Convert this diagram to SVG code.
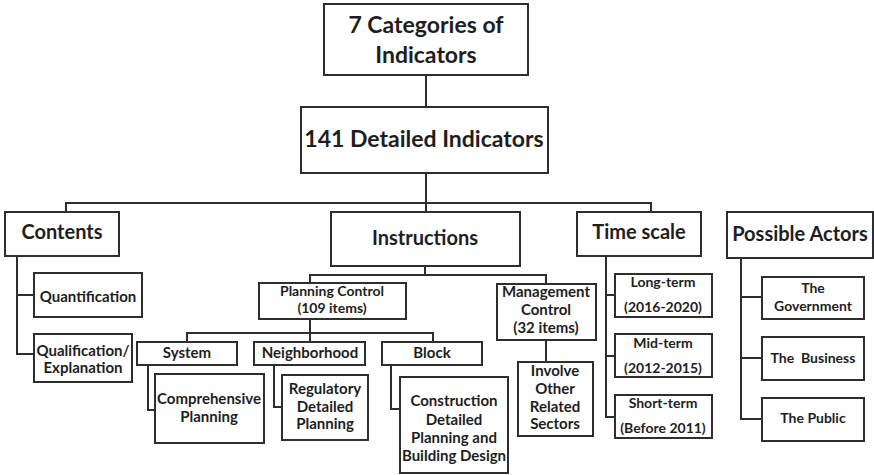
<svg xmlns="http://www.w3.org/2000/svg" width="874" height="475" viewBox="0 0 874 475">
  <style>
    .box { fill: #ffffff; stroke: #2e2e2e; stroke-width: 2; }
    .wire { fill: none; stroke: #2e2e2e; stroke-width: 2; }
    text { font-family: Lato, "Open Sans", "Liberation Sans", sans-serif; font-weight: bold; fill: #1e1e1e; text-anchor: middle; }
    .h1 { font-size: 23px; }
    .h2 { font-size: 20px; }
    .t { font-size: 15px; }
    .s { font-size: 14px; }
  </style>
  <rect width="874" height="475" fill="#ffffff"/>

  <!-- connectors -->
  <g id="connectors" class="wire">
    <path d="M426 75 V107"/>
    <path d="M426 173 V212"/>
    <path d="M66 212 V203 H651 V212"/>
    <!-- Contents branches -->
    <path d="M17 256 V354 H34 M17 295 H34"/>
    <!-- Instructions split -->
    <path d="M425 266 V275 M310 283 V275 H546 V284"/>
    <!-- Planning Control branches -->
    <path d="M310 319 V333 M187 342 V333 H433 V342 M310 333 V342"/>
    <path d="M148 365 V410 H155"/>
    <path d="M274 365 V407 H282"/>
    <path d="M391 365 V409 H400"/>
    <!-- Management Control -->
    <path d="M546 340 V362"/>
    <!-- Time scale branches -->
    <path d="M606 256 V417 H615 M606 295 H615 M606 356 H615"/>
    <!-- Possible Actors branches -->
    <path d="M741 258 V419 H762 M741 297 H762 M741 358 H762"/>
  </g>

  <g id="categories">
    <rect class="box" x="324" y="4" width="204" height="71"/>
    <text class="h1" x="426" y="33">7 Categories of</text>
    <text class="h1" x="426" y="63">Indicators</text>
  </g>
  <g id="detailed">
    <rect class="box" x="301" y="107" width="247" height="66"/>
    <text class="h1" x="424" y="147">141 Detailed Indicators</text>
  </g>

  <g id="contents">
    <rect class="box" x="5" y="212" width="114" height="44"/>
    <text class="h2" x="62" y="239">Contents</text>
  </g>
  <g id="quantification">
    <rect class="box" x="34" y="273" width="108" height="44"/>
    <text class="t" x="88" y="302">Quantification</text>
  </g>
  <g id="qualification">
    <rect class="box" x="34" y="334" width="98" height="48"/>
    <text class="t" x="83" y="356">Qualification/</text>
    <text class="t" x="83" y="373">Explanation</text>
  </g>

  <g id="instructions">
    <rect class="box" x="331" y="212" width="189" height="54"/>
    <text class="h2" x="425" y="245">Instructions</text>
  </g>
  <g id="planning-control">
    <rect class="box" x="259" y="283" width="147" height="36"/>
    <text class="s" x="332" y="296">Planning Control</text>
    <text class="s" x="332" y="313">(109 items)</text>
  </g>
  <g id="system">
    <rect class="box" x="137" y="342" width="100" height="23"/>
    <text class="t" x="187" y="358">System</text>
  </g>
  <g id="neighborhood">
    <rect class="box" x="254" y="342" width="111" height="23"/>
    <text class="t" x="310" y="358">Neighborhood</text>
  </g>
  <g id="block">
    <rect class="box" x="382" y="342" width="100" height="23"/>
    <text class="t" x="432" y="358">Block</text>
  </g>
  <g id="comprehensive">
    <rect class="box" x="155" y="374" width="109" height="69"/>
    <text class="t" x="209" y="404">Comprehensive</text>
    <text class="t" x="209" y="422">Planning</text>
  </g>
  <g id="regulatory">
    <rect class="box" x="282" y="375" width="86" height="65"/>
    <text class="t" x="325" y="394">Regulatory</text>
    <text class="t" x="325" y="412">Detailed</text>
    <text class="t" x="325" y="429">Planning</text>
  </g>
  <g id="construction">
    <rect class="box" x="400" y="377" width="108" height="96"/>
    <text class="t" x="454" y="406">Construction</text>
    <text class="t" x="454" y="425">Detailed</text>
    <text class="t" x="454" y="443">Planning and</text>
    <text class="t" x="454" y="461">Building Design</text>
  </g>
  <g id="management-control">
    <rect class="box" x="497" y="284" width="99" height="56"/>
    <text class="t" x="546" y="297">Management</text>
    <text class="t" x="546" y="315">Control</text>
    <text class="t" x="546" y="333">(32 items)</text>
  </g>
  <g id="involve">
    <rect class="box" x="518" y="362" width="75" height="74"/>
    <text class="t" x="555" y="376">Involve</text>
    <text class="t" x="555" y="394">Other</text>
    <text class="t" x="555" y="412">Related</text>
    <text class="t" x="555" y="429">Sectors</text>
  </g>

  <g id="time-scale">
    <rect class="box" x="577" y="212" width="124" height="44"/>
    <text class="h2" x="639" y="239">Time scale</text>
  </g>
  <g id="long-term">
    <rect class="box" x="615" y="274" width="97" height="43"/>
    <text class="s" x="663" y="287">Long-term</text>
    <text class="s" x="663" y="312">(2016-2020)</text>
  </g>
  <g id="mid-term">
    <rect class="box" x="615" y="334" width="97" height="43"/>
    <text class="s" x="663" y="348">Mid-term</text>
    <text class="s" x="663" y="373">(2012-2015)</text>
  </g>
  <g id="short-term">
    <rect class="box" x="615" y="395" width="97" height="43"/>
    <text class="s" x="663" y="408">Short-term</text>
    <text class="s" x="663" y="433">(Before 2011)</text>
  </g>

  <g id="possible-actors">
    <rect class="box" x="727" y="212" width="146" height="46"/>
    <text class="h2" x="800" y="241">Possible Actors</text>
  </g>
  <g id="government">
    <rect class="box" x="762" y="277" width="102" height="42"/>
    <text class="s" x="813" y="293">The</text>
    <text class="s" x="813" y="311">Government</text>
  </g>
  <g id="business">
    <rect class="box" x="762" y="337" width="102" height="43"/>
    <text class="s" x="813" y="363" xml:space="preserve">The  Business</text>
  </g>
  <g id="public">
    <rect class="box" x="762" y="398" width="102" height="43"/>
    <text class="s" x="813" y="423">The Public</text>
  </g>
</svg>
